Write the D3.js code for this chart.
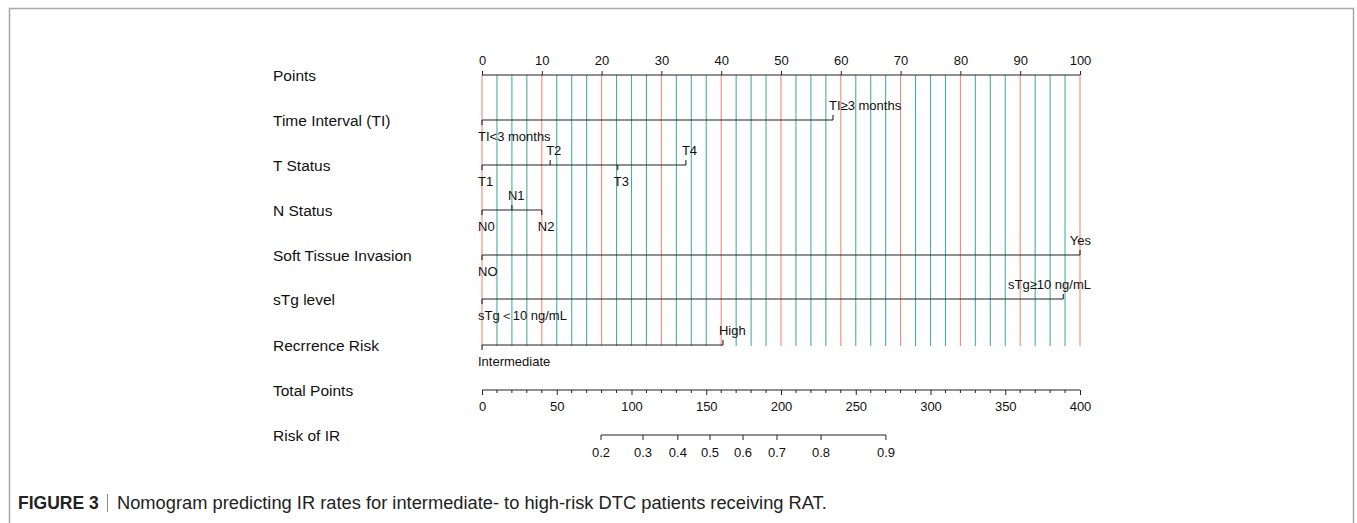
<!DOCTYPE html>
<html>
<head>
<meta charset="utf-8">
<script src="https://cdn.jsdelivr.net/npm/d3@7"></script>
<style>
html,body{margin:0;padding:0;background:#fff;}
svg{display:block;}
</style>
</head>
<body>
<svg id="chart" width="1357" height="523"></svg>
<script>
// ---------- data ----------
const rowLabels = ["Points","Time Interval (TI)","T Status","N Status","Soft Tissue Invasion","sTg level","Recrrence Risk","Total Points","Risk of IR"];
const pointTicks = [0,10,20,30,40,50,60,70,80,90,100];
const tiLevels = ["TI<3 months","TI≥3 months"];
const tiPoints = [0,58.7];
const tiSides = ["below","above"];
const tLevels = ["T1","T2","T3","T4"];
const tPoints = [0,11.4,22.7,34.1];
const tSides = ["below","above","below","above"];
const nLevels = ["N0","N1","N2"];
const nPoints = [0,5,10];
const nSides = ["below","above","below"];
const softLevels = ["NO","Yes"];
const softPoints = [0,100];
const softSides = ["below","above"];
const sTgLevels = ["sTg＜10 ng/mL","sTg≥10 ng/mL"];
const sTgPoints = [0,97.2];
const sTgSides = ["below","above"];
const recLevels = ["Intermediate","High"];
const recPoints = [0,40.3];
const recSides = ["below","above"];
const totalTicks = [0,50,100,150,200,250,300,350,400];
const totalMinorStep = 10;
const probTicks = [0.2,0.3,0.4,0.5,0.6,0.7,0.8,0.9];
const probTotalPoints = [79.6,107.7,131.0,152.5,174.6,197.3,226.8,270.2];

// ---------- layout ----------
const svg = d3.select("#chart");
const x0 = 482, x1 = 1080;
const rowY = [75,120,165,210,255,299,345,390,435];
const rightLimit = 1091;
const FONT = "Liberation Sans, Arial, Helvetica, sans-serif";
const SMALL = 13;

const xPts = d3.scaleLinear().domain([0,100]).range([x0,x1]);
const xTot = d3.scaleLinear().domain([0,400]).range([x0,x1]);

// frame
svg.append("rect").attr("x",9.5).attr("y",8.5).attr("width",1344).attr("height",530)
  .attr("fill","none").attr("stroke","#a8a8a8").attr("stroke-width",1.5);

// row labels
svg.append("g").selectAll("text").data(rowLabels).join("text")
  .attr("x",273).attr("y",(d,i)=>rowY[i]+5.5)
  .attr("font-family",FONT).attr("font-size",15.5).attr("fill","#111")
  .text(d=>d);

// vertical reference lines every 2.5 points
const grid = d3.range(0,100.001,2.5);
svg.append("g").selectAll("line").data(grid).join("line")
  .attr("x1",d=>xPts(d)).attr("x2",d=>xPts(d))
  .attr("y1",rowY[0]).attr("y2",rowY[6]+1)
  .attr("stroke",d=> (Math.abs(d%10)<1e-6) ? "#f4826f" : "#2c9e98")
  .attr("stroke-opacity",d=> (Math.abs(d%10)<1e-6) ? 0.95 : 0.85)
  .attr("stroke-width",1.1);

// Points axis (top)
const axTop = d3.axisTop(xPts).tickValues(pointTicks).tickSize(4).tickFormat(d3.format("d"));
const gTop = svg.append("g").attr("transform",`translate(0,${rowY[0]})`).call(axTop);
gTop.select(".domain").attr("stroke","#222").attr("stroke-width",1.1).attr("d",`M${x0},0H${x1}`);
gTop.selectAll(".tick line").attr("stroke","#222");
gTop.selectAll(".tick text").attr("font-family",FONT).attr("font-size",SMALL).attr("fill","#111").attr("dy",null).attr("y",-10.5);

// variable rows
function drawVar(rowIdx, levels, pts, sides){
  const y = rowY[rowIdx];
  const g = svg.append("g");
  const maxP = d3.max(pts);
  g.append("line").attr("x1",xPts(0)).attr("x2",xPts(maxP)).attr("y1",y).attr("y2",y)
    .attr("stroke","#222").attr("stroke-width",1.1);
  levels.forEach((lab,i)=>{
    const xp = xPts(pts[i]);
    const up = sides[i]==="above";
    g.append("line").attr("x1",xp).attr("x2",xp).attr("y1",y).attr("y2",up? y-5 : y+5)
      .attr("stroke","#222").attr("stroke-width",1.1);
    const t = g.append("text").attr("x",xp-4).attr("y",up? y-10.5 : y+21)
      .attr("font-family",FONT).attr("font-size",SMALL).attr("fill","#111").text(lab);
    const w = t.node().getComputedTextLength();
    if (xp-4+w > rightLimit) t.attr("x", rightLimit - w);
  });
}
drawVar(1, tiLevels, tiPoints, tiSides);
drawVar(2, tLevels, tPoints, tSides);
drawVar(3, nLevels, nPoints, nSides);
drawVar(4, softLevels, softPoints, softSides);
drawVar(5, sTgLevels, sTgPoints, sTgSides);
drawVar(6, recLevels, recPoints, recSides);

// Total points axis
const minorTot = d3.range(0,400.001,totalMinorStep).filter(d=>totalTicks.indexOf(d)<0);
const gTot = svg.append("g").attr("transform",`translate(0,${rowY[7]})`);
gTot.call(d3.axisBottom(xTot).tickValues(totalTicks).tickSize(5).tickFormat(d3.format("d")));
gTot.select(".domain").attr("stroke","#222").attr("stroke-width",1.1).attr("d",`M${x0},0H${x1}`);
gTot.selectAll(".tick line").attr("stroke","#222");
gTot.selectAll(".tick text").attr("font-family",FONT).attr("font-size",SMALL).attr("fill","#111").attr("y",11.5);
gTot.append("g").selectAll("line").data(minorTot).join("line")
  .attr("x1",d=>xTot(d)).attr("x2",d=>xTot(d)).attr("y1",0).attr("y2",3)
  .attr("stroke","#222");

// Risk of IR axis
const gRisk = svg.append("g").attr("transform",`translate(0,${rowY[8]})`);
const riskX = probTotalPoints.map(p=>xTot(p));
gRisk.append("line").attr("x1",riskX[0]).attr("x2",riskX[riskX.length-1]).attr("y1",0).attr("y2",0)
  .attr("stroke","#222").attr("stroke-width",1.1);
gRisk.selectAll("line.tk").data(probTicks).join("line").attr("class","tk")
  .attr("x1",(d,i)=>riskX[i]).attr("x2",(d,i)=>riskX[i]).attr("y1",0).attr("y2",5)
  .attr("stroke","#222");
gRisk.selectAll("text").data(probTicks).join("text")
  .attr("x",(d,i)=>riskX[i]).attr("y",21.5).attr("text-anchor","middle")
  .attr("font-family",FONT).attr("font-size",SMALL).attr("fill","#111")
  .text(d=>d3.format(".1f")(d));

// caption
svg.append("text").attr("x",18).attr("y",509)
  .attr("font-family",FONT).attr("font-size",17.5).attr("font-weight","bold").attr("fill","#222")
  .text("FIGURE 3");
svg.append("line").attr("x1",107.5).attr("x2",107.5).attr("y1",494).attr("y2",512).attr("stroke","#888").attr("stroke-width",1);
svg.append("text").attr("x",117).attr("y",509)
  .attr("font-family",FONT).attr("font-size",18.3).attr("fill","#222")
  .text("Nomogram predicting IR rates for intermediate- to high-risk DTC patients receiving RAT.");
</script>
</body>
</html>
